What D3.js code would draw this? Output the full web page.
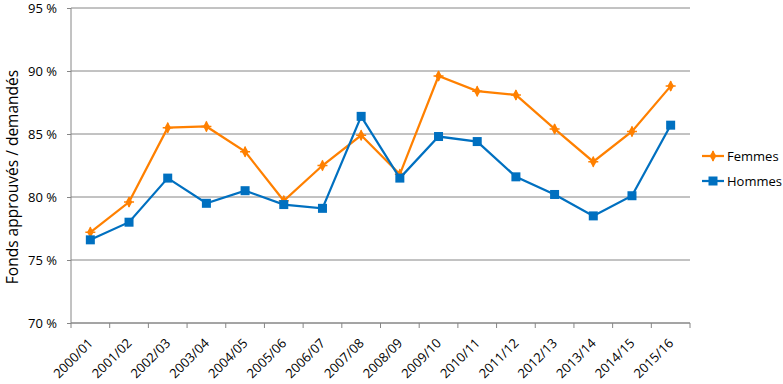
<!DOCTYPE html>
<html>
<head>
<meta charset="utf-8">
<script src="https://cdn.jsdelivr.net/npm/d3@7"></script>
<style>
  body { margin: 0; background: #fff; }
  text { font-family: "Open Sans", "Noto Sans", sans-serif; }
</style>
</head>
<body>
<div id="chart"></div>
<script>
// data
let years = ["2000/01", "2001/02", "2002/03", "2003/04", "2004/05", "2005/06", "2006/07", "2007/08",
  "2008/09", "2009/10", "2010/11", "2011/12", "2012/13", "2013/14", "2014/15", "2015/16"];
let femmes = [77.2, 79.6, 85.5, 85.6, 83.6, 79.7, 82.5, 84.9, 81.8, 89.6, 88.4, 88.1, 85.4, 82.8, 85.2, 88.8];
let hommes = [76.6, 78.0, 81.5, 79.5, 80.5, 79.4, 79.1, 86.4, 81.5, 84.8, 84.4, 81.6, 80.2, 78.5, 80.1, 85.7];
let yTicks = [70, 75, 80, 85, 90, 95];

let width = 783, height = 384;
let padLeft = 71, padRight = 690, padTop = 8, padBottom = 323;

let svg = d3.select("#chart").append("svg")
  .attr("width", width).attr("height", height);

let xScale = d3.scaleBand().domain(years).range([padLeft, padRight]);
let yScale = d3.scaleLinear().domain([70, 95]).range([padBottom, padTop]);

// gridlines
svg.append("g")
  .selectAll("line")
  .data(yTicks)
  .enter().append("line")
  .attr("x1", padLeft).attr("x2", padRight)
  .attr("y1", d => yScale(d)).attr("y2", d => yScale(d))
  .style("stroke", "#868686").style("stroke-width", 1);

// y axis
let yAxis = d3.axisLeft(yScale).tickValues(yTicks)
  .tickSize(4).tickPadding(10)
  .tickFormat(d => d + " %");
svg.append("g")
  .attr("transform", "translate(" + padLeft + ",0)")
  .call(yAxis)
  .call(g => g.selectAll("line, path").style("stroke", "#868686"))
  .call(g => g.select(".domain").attr("d", "M0," + padTop + "V" + padBottom))
  .call(g => g.selectAll("text").style("font-size", "13px").style("fill", "#000"));

// x axis: ticks at category boundaries
let bounds = years.map(d => xScale(d)).concat([padRight]);
let xg = svg.append("g");
xg.append("line")
  .attr("x1", padLeft).attr("x2", padRight).attr("y1", padBottom).attr("y2", padBottom)
  .style("stroke", "#868686");
xg.selectAll(".tick")
  .data(bounds)
  .enter().append("line")
  .attr("x1", d => d).attr("x2", d => d)
  .attr("y1", padBottom).attr("y2", padBottom + 5)
  .style("stroke", "#868686");
xg.selectAll(".xlabel")
  .data(years)
  .enter().append("text")
  .attr("class", "xlabel")
  .attr("transform", d => "translate(" + (xScale(d) + xScale.bandwidth() / 2 + 3.5) + "," + (padBottom + 21) + ") rotate(-45)")
  .style("text-anchor", "end")
  .style("font-size", "13px")
  .text(d => d);

// y axis title
svg.append("text")
  .attr("transform", "translate(18,177) rotate(-90)")
  .style("text-anchor", "middle")
  .style("font-size", "15.5px")
  .text("Fonds approuvés / demandés");

let cx = d => xScale(d) + xScale.bandwidth() / 2;
let line = d3.line();

let series = [
  { name: "Femmes", values: femmes, color: "#FF8000", symbol: "star" },
  { name: "Hommes", values: hommes, color: "#0070C0", symbol: "square" }
];

function drawMarker(g, s, x, y) {
  if (s.symbol == "square") {
    g.append("rect")
      .attr("x", x - 4.5).attr("y", y - 4.5)
      .attr("width", 9).attr("height", 9)
      .style("fill", s.color);
  } else {
    g.append("path")
      .attr("transform", "translate(" + x + "," + y + ")")
      .attr("d", d3.symbol().type(d3.symbolDiamond).size(38)())
      .style("fill", s.color);
    g.append("path")
      .attr("transform", "translate(" + x + "," + y + ")")
      .attr("d", "M-5,0H5M0,-5V5")
      .style("stroke", s.color).style("stroke-width", 1.5);
  }
}

// Femmes first, Hommes on top (blue crosses over orange in the reference)
series.forEach(function(s) {
  let g = svg.append("g");
  g.append("path")
    .attr("d", line(years.map((y, i) => [cx(y), yScale(s.values[i])])))
    .style("fill", "none")
    .style("stroke", s.color)
    .style("stroke-width", 2.25);
  years.forEach((y, i) => drawMarker(g, s, cx(y), yScale(s.values[i])));
});

// legend
series.forEach(function(s, i) {
  let ly = 156 + i * 25;
  let g = svg.append("g");
  g.append("line")
    .attr("x1", 702).attr("x2", 724).attr("y1", ly).attr("y2", ly)
    .style("stroke", s.color).style("stroke-width", 2.25);
  drawMarker(g, s, 713, ly);
  g.append("text")
    .attr("x", 727).attr("y", ly)
    .attr("dy", "0.35em")
    .style("font-size", "13px")
    .text(s.name);
});
</script>
</body>
</html>
